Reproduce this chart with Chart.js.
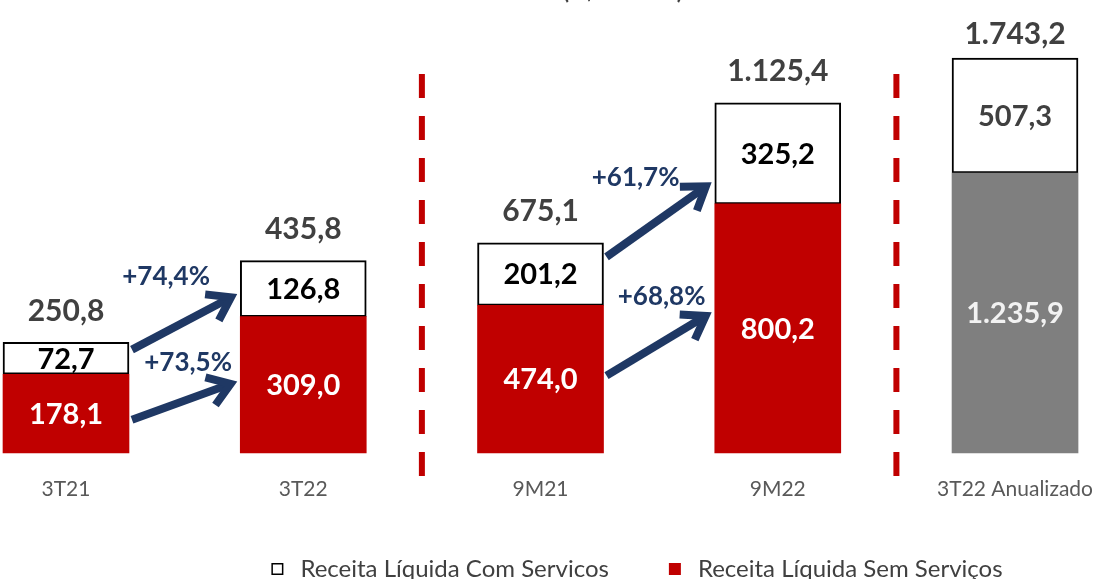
<!DOCTYPE html>
<html lang="pt-BR">
<head>
<meta charset="utf-8">
<script src="https://cdn.jsdelivr.net/npm/chart.js@4/dist/chart.umd.min.js"></script>
<style>
  html, body { margin: 0; padding: 0; background: #fff; }
  #wrap { width: 1117px; height: 579px; position: relative; }
</style>
</head>
<body>
<div id="wrap"><canvas id="grafico"></canvas></div>
<script>
// dados (R$ milhões)
const categorias = ["3T21", "3T22", "9M21", "9M22", "3T22 Anualizado"];
const grupos = ["A", "A", "B", "B", "C"];
const semServicos = [178.1, 309.0, 474.0, 800.2, 1235.9];
const comServicos = [72.7, 126.8, 201.2, 325.2, 507.3];
const totais = [250.8, 435.8, 675.1, 1125.4, 1743.2];
const crescimentoCom = ["+74,4%", "+61,7%"];
const crescimentoSem = ["+73,5%", "+68,8%"];

const FONTE = "Lato, 'Open Sans', sans-serif";
const VERMELHO = "#C00000";
const CINZA = "#7F7F7F";
const AZUL = "#1F3864";

// formata no padrão brasileiro: 1.235,9
function fmt(v) {
  const partes = v.toFixed(1).split(".");
  partes[0] = partes[0].replace(/\B(?=(\d{3})+(?!\d))/g, ".");
  return partes.join(",");
}

function serie(valores, g) {
  return valores.map((v, i) => (grupos[i] === g ? v : null));
}

const datasets = [];
["A", "B", "C"].forEach((g) => {
  datasets.push({
    label: "Receita Líquida Sem Serviços",
    tipo: "sem",
    data: serie(semServicos, g),
    yAxisID: "y" + g,
    backgroundColor: g === "C" ? CINZA : VERMELHO,
    borderWidth: 0,
    stack: "s",
    barThickness: 126,
    clip: false
  });
});
["A", "B", "C"].forEach((g) => {
  datasets.push({
    label: "Receita Líquida Com Servicos",
    tipo: "com",
    data: serie(comServicos, g),
    yAxisID: "y" + g,
    backgroundColor: "#FFFFFF",
    borderColor: "#000000",
    borderWidth: 2,
    borderSkipped: false,
    stack: "s",
    barThickness: 126,
    clip: false
  });
});

// setas de crescimento (posições em unidades da escala do grupo)
const setas = [
  { de: 0, para: 1, texto: crescimentoCom[0], y0: 234, y1: 359, yTexto: 399, dx: -18 },
  { de: 0, para: 1, texto: crescimentoSem[0], y0: 75, y1: 161, yTexto: 204, dx: 4 },
  { de: 2, para: 3, texto: crescimentoCom[1], y0: 630, y1: 868, yTexto: 884, dx: -23 },
  { de: 2, para: 3, texto: crescimentoSem[1], y0: 248, y1: 450, yTexto: 502, dx: 3 }
];

function desenhaSeta(ctx, x0, y0, x1, y1) {
  const ang = Math.atan2(y1 - y0, x1 - x0);
  const c = Math.cos(ang), s = Math.sin(ang);
  const a = 0.6, L = 26;
  const px = x1 - 6 * c, py = y1 - 6 * s; // recua para o bico não passar do ponto
  ctx.save();
  ctx.strokeStyle = AZUL;
  ctx.lineWidth = 8;
  ctx.lineCap = "butt";
  ctx.lineJoin = "miter";
  ctx.beginPath();
  ctx.moveTo(x0, y0);
  ctx.lineTo(px - 4 * c, py - 4 * s);
  ctx.stroke();
  ctx.beginPath();
  ctx.moveTo(px - L * Math.cos(ang - a), py - L * Math.sin(ang - a));
  ctx.lineTo(px, py);
  ctx.lineTo(px - L * Math.cos(ang + a), py - L * Math.sin(ang + a));
  ctx.stroke();
  ctx.restore();
}

function barraDe(chart, i, tipo) {
  for (let d = 0; d < chart.data.datasets.length; d++) {
    const ds = chart.data.datasets[d];
    if (ds.tipo === tipo && ds.data[i] != null) return chart.getDatasetMeta(d).data[i];
  }
  return null;
}

const rotulos = {
  id: "rotulos",
  afterDatasetsDraw(chart) {
    const { ctx, chartArea } = chart;
    ctx.save();
    ctx.textAlign = "center";
    ctx.textBaseline = "middle";

    // valores dentro das barras
    chart.data.datasets.forEach((ds, d) => {
      const meta = chart.getDatasetMeta(d);
      ds.data.forEach((v, i) => {
        if (v == null) return;
        const el = meta.data[i];
        const ultimo = grupos[i] === "C";
        ctx.font = "bold 29px " + FONTE;
        if (ds.tipo === "com") ctx.fillStyle = ultimo ? "#404040" : "#000000";
        else ctx.fillStyle = ultimo ? "#F2F2F2" : "#FFFFFF";
        ctx.fillText(fmt(v), el.x, (el.y + el.base) / 2 + 1);
      });
    });

    // totais acima das barras
    ctx.font = "bold 30px " + FONTE;
    ctx.fillStyle = "#404040";
    totais.forEach((t, i) => {
      const el = barraDe(chart, i, "com");
      ctx.fillText(fmt(t), el.x, el.y - (grupos[i] === "C" ? 24 : 31));
    });

    // setas e percentuais
    setas.forEach((sx) => {
      const escA = chart.scales["y" + grupos[sx.de]];
      const a = barraDe(chart, sx.de, "com");
      const b = barraDe(chart, sx.para, "com");
      const xa = a.x + a.width / 2 + 3;
      const xb = b.x - b.width / 2 - 4;
      desenhaSeta(ctx, xa, escA.getPixelForValue(sx.y0), xb, escA.getPixelForValue(sx.y1));
      ctx.font = "bold 26px " + FONTE;
      ctx.fillStyle = AZUL;
      ctx.fillText(sx.texto, (xa + xb) / 2 + sx.dx, escA.getPixelForValue(sx.yTexto));
    });

    // linhas tracejadas separando os blocos
    const xs = chart.scales.x;
    ctx.strokeStyle = VERMELHO;
    ctx.lineWidth = 6;
    ctx.setLineDash([24, 18]);
    [[1, 2], [3, 4]].forEach(([p, q]) => {
      const x = (xs.getPixelForValue(p) + xs.getPixelForValue(q)) / 2;
      ctx.beginPath();
      ctx.moveTo(x, chartArea.top + 74);
      ctx.lineTo(x, chartArea.bottom + 25);
      ctx.stroke();
    });
    ctx.setLineDash([]);

    // título cortado no topo
    ctx.font = "bold 22px " + FONTE;
    ctx.fillStyle = "#404040";
    ctx.textBaseline = "alphabetic";
    ctx.fillText("(R$ milhões)", 623, -1);

    // legenda
    const itens = [chart.data.datasets[3], chart.data.datasets[0]];
    ctx.font = "24px " + FONTE;
    ctx.textAlign = "left";
    ctx.textBaseline = "middle";
    const larg = itens.map((it) => 12 + 17 + ctx.measureText(it.label).width);
    const gap = 60;
    let x = 637 - (larg[0] + gap + larg[1]) / 2;
    const yl = 569;
    itens.forEach((it, k) => {
      ctx.fillStyle = it.backgroundColor;
      ctx.fillRect(x, yl - 6, 12, 12);
      if (it.tipo === "com") {
        ctx.strokeStyle = "#000";
        ctx.lineWidth = 1.5;
        ctx.strokeRect(x + 0.75, yl - 5.25, 10.5, 10.5);
      }
      ctx.fillStyle = "#404040";
      ctx.fillText(it.label, x + 29, yl);
      x += larg[k] + gap;
    });
    ctx.restore();
  }
};

new Chart(document.getElementById("grafico"), {
  type: "bar",
  data: { labels: categorias, datasets: datasets },
  plugins: [rotulos],
  options: {
    responsive: true,
    maintainAspectRatio: false,
    animation: false,
    layout: { padding: { left: 66, right: 98, top: 0, bottom: 53 } },
    plugins: { legend: { display: false }, tooltip: { enabled: false } },
    scales: {
      x: {
        stacked: true,
        offset: false,
        grid: { display: false, drawTicks: false },
        border: { display: false },
        ticks: { font: { family: FONTE, size: 21 }, color: "#595959", padding: 24, autoSkip: false, maxRotation: 0 }
      },
      yA: { type: "linear", display: false, stacked: true, min: 0, max: 1027 },
      yB: { type: "linear", display: false, stacked: true, min: 0, max: 1456 },
      yC: { type: "linear", display: false, stacked: true, min: 0, max: 2000 }
    }
  }
});
</script>
</body>
</html>
